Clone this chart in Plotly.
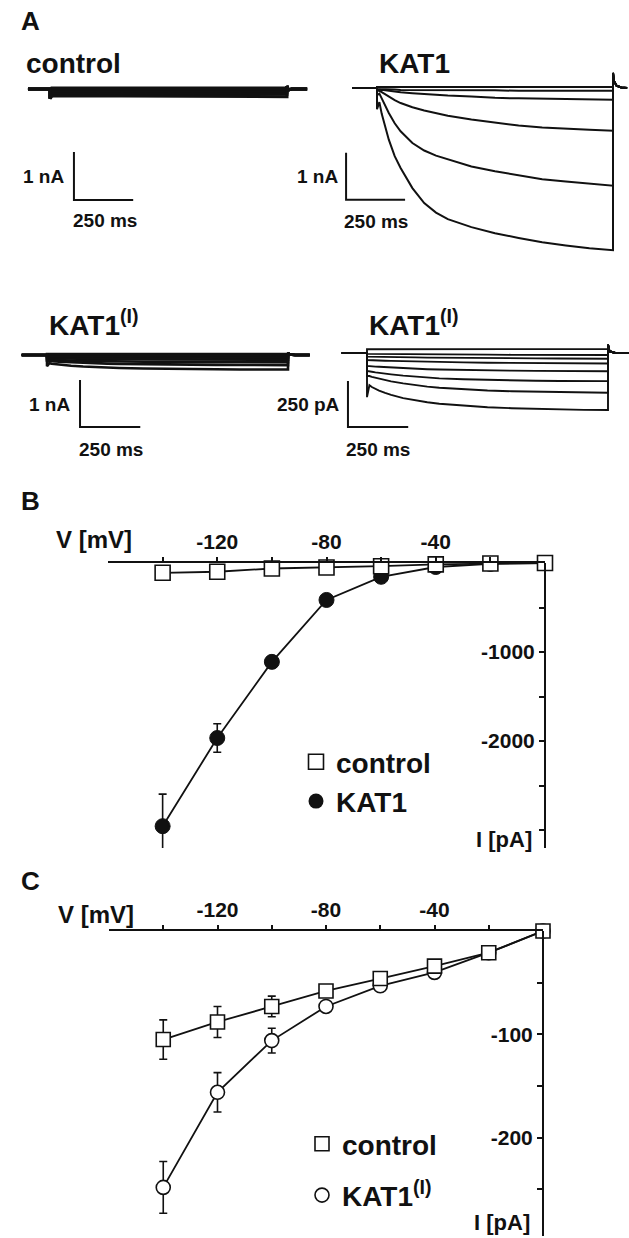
import plotly.graph_objects as go

W, H = 629, 1238
FONT = "Liberation Sans, Arial, sans-serif"
INK = "#111111"

# ---------------- Panel A : current traces ----------------
# time (ms) relative to pulse onset
T_PRE = [-105, 0]
T_PULSE = [0, 10, 20, 35, 50, 75, 100, 150, 200, 250, 300, 400, 500, 600, 700, 800, 900, 1000]

# control oocyte (nA)
T_CTRL_PULSE = [0, 8, 20, 500, 1000]
CTRL_1 = [-0.20, 0.02, 0.02, 0.02, 0.02]
CTRL_2 = [-0.20, -0.03, -0.03, -0.03, -0.03]
CTRL_3 = [-0.20, -0.07, -0.07, -0.07, -0.07]
CTRL_4 = [-0.20, -0.11, -0.10, -0.11, -0.11]
CTRL_5 = [-0.20, -0.15, -0.14, -0.15, -0.16]
T_CTRL_TAIL = [1000, 1006, 1020, 1085]
CTRL_TAIL = [0.06, -0.02, 0.0, 0.0]

# KAT1 (nA)
KAT1_0 = [0.02, 0.02, 0.02, 0.02, 0.02, 0.02, 0.02, 0.02, 0.02, 0.02, 0.02, 0.02, 0.02, 0.02, 0.02, 0.02, 0.02, 0.02]
KAT1_1 = [-0.02, -0.02, -0.02, -0.03, -0.03, -0.03, -0.04, -0.04, -0.04, -0.05, -0.05, -0.05, -0.05, -0.06, -0.06, -0.06, -0.06, -0.06]
KAT1_2 = [-0.03, -0.03, -0.04, -0.05, -0.06, -0.08, -0.09, -0.11, -0.13, -0.145, -0.16, -0.18, -0.21, -0.22, -0.23, -0.24, -0.24, -0.25]
KAT1_3 = [-0.06, -0.06, -0.09, -0.14, -0.19, -0.26, -0.32, -0.41, -0.48, -0.54, -0.59, -0.67, -0.74, -0.80, -0.84, -0.87, -0.89, -0.91]
KAT1_4 = [-0.15, -0.12, -0.22, -0.38, -0.53, -0.75, -0.92, -1.17, -1.33, -1.44, -1.52, -1.67, -1.77, -1.86, -1.94, -1.99, -2.04, -2.08]
KAT1_5 = [-0.45, -0.30, -0.55, -0.85, -1.10, -1.45, -1.70, -2.13, -2.45, -2.65, -2.79, -2.96, -3.09, -3.19, -3.28, -3.35, -3.41, -3.45]
T_KAT1_TAIL = [1000, 1004, 1015, 1035, 1060]
KAT1_TAIL = [0.32, 0.15, 0.05, 0.01, 0.0]

# KAT1(I) (pA)
KI_1 = [20, 20, 20, 20, 21, 21, 21, 21, 21, 22, 22, 22, 22, 22, 22, 22, 22, 22]
KI_2 = [-5, -5, -5, -6, -6, -6, -7, -7, -8, -8, -8, -9, -9, -10, -10, -10, -11, -11]
KI_3 = [-20, -20, -21, -22, -22, -23, -23, -24, -24, -25, -25, -26, -27, -28, -29, -30, -30, -31]
KI_4 = [-38, -38, -39, -40, -41, -42, -43, -45, -47, -48, -49, -51, -53, -54, -55, -56, -57, -57]
KI_5 = [-70, -70, -72, -74, -75, -77, -79, -83, -86, -88, -90, -93, -95, -96, -97, -98, -99, -99]
KI_6 = [-98, -98, -102, -105, -108, -112, -116, -123, -129, -134, -138, -143, -147, -149, -151, -152, -153, -153]
KI_7 = [-125, -125, -130, -135, -140, -147, -154, -165, -175, -183, -189, -198, -204, -208, -211, -213, -215, -216]
KI_8 = [-240, -175, -185, -195, -204, -217, -228, -245, -258, -268, -276, -287, -295, -300, -304, -307, -309, -310]
T_KI_TAIL = [1000, 1006, 1030, 1090]
KI_TAIL = [45, 10, 0, 0]

# ---------------- Panels B and C : I/V curves ----------------
V_STEPS = [-140, -120, -100, -80, -60, -40, -20, 0]
V_LABELED = [-120, -80, -40]
V_TICKTEXT = ["-120", "-80", "-40"]
V_MINOR = [-140, -100, -60, -20]

B_CONTROL = [-110, -98, -62, -50, -36, -15, -6, 0]
B_KAT1 = [-2955, -1965, -1110, -415, -155, -45, -10, 0]
B_KAT1_ERR = [360, 160, 50, 30, 20, 10, 5, 0]
B_ILABELED = [-1000, -2000]
B_ITEXT = ["-1000", "-2000"]
B_IMINOR = [-500, -1500, -2500, -3000]

C_CONTROL = [-105, -88, -73, -58, -46, -34, -21, 0]
C_CONTROL_ERR = [19, 15, 10, 3, 2, 2, 2, 0]
C_KAT1I = [-248, -156, -106, -73, -53, -40, -21, 0]
C_KAT1I_ERR = [25, 19, 12, 4, 3, 3, 2, 0]
C_ILABELED = [-100, -200]
C_ITEXT = ["-100", "-200"]
C_IMINOR = [-50, -150, -250]

fig = go.Figure()


def xdom(a, b):
    return [a / W, b / W]


def ydom(top, bot):
    return [1 - bot / H, 1 - top / H]


def trace_axis_x(px0, px1, p_t0, px_per_ms):
    return dict(domain=xdom(px0, px1), range=[(px0 - p_t0) / px_per_ms, (px1 - p_t0) / px_per_ms],
                visible=False, fixedrange=True)


def trace_axis_y(ptop, pbot, p_base, px_per_unit):
    return dict(domain=ydom(ptop, pbot), range=[-(pbot - p_base) / px_per_unit, -(ptop - p_base) / px_per_unit],
                visible=False, fixedrange=True)


def add_sweep(xa, ya, pre, t_pulse, vals, t_tail, tail, width=1.8):
    x = [pre, T_PRE[1]] + list(t_pulse) + list(t_tail)
    y = [0, 0] + list(vals) + list(tail)
    fig.add_trace(go.Scatter(x=x, y=y, mode="lines", line=dict(color=INK, width=width),
                             xaxis=xa, yaxis=ya, showlegend=False, hoverinfo="skip"))


# A1 control
for tr in [CTRL_1, CTRL_2, CTRL_3, CTRL_4, CTRL_5]:
    add_sweep("x3", "y3", -93, T_CTRL_PULSE, tr, T_CTRL_TAIL, CTRL_TAIL, width=3.0)
# A2 KAT1
for tr in [KAT1_0, KAT1_1, KAT1_2, KAT1_3, KAT1_4, KAT1_5]:
    add_sweep("x4", "y4", -105, T_PULSE, tr, T_KAT1_TAIL, KAT1_TAIL, width=2.0)
# A3 KAT1(I), nA scale / A4 KAT1(I), pA scale
for tr in [KI_1, KI_2, KI_3, KI_4, KI_5, KI_6, KI_7, KI_8]:
    add_sweep("x5", "y5", -105, T_PULSE, [v / 1000 for v in tr], T_KI_TAIL, [v / 1000 for v in KI_TAIL], width=2.6)
    add_sweep("x6", "y6", -105, T_PULSE, tr, T_KI_TAIL, KI_TAIL, width=1.9)

# scale bars: (xaxis, yaxis, corner time, corner current, bar height)
SCALE_BARS = [("x3", "y3", 101, -2.31, 1.0), ("x4", "y4", -131, -2.38, 1.0),
              ("x5", "y5", 137, -1.53, 1.0), ("x6", "y6", -79, -402, 250)]
for xa, ya, tc, ic, hgt in SCALE_BARS:
    fig.add_trace(go.Scatter(x=[tc, tc, tc + 250], y=[ic + hgt, ic, ic], mode="lines",
                             line=dict(color=INK, width=2), xaxis=xa, yaxis=ya,
                             showlegend=False, hoverinfo="skip"))

# ---------------- Panel B ----------------
fig.add_trace(go.Scatter(x=V_STEPS, y=B_KAT1, mode="lines+markers", xaxis="x", yaxis="y",
                         line=dict(color=INK, width=1.8),
                         marker=dict(symbol="circle", size=15, color=INK, line=dict(color=INK, width=1)),
                         error_y=dict(type="data", array=B_KAT1_ERR, color=INK, thickness=1.6, width=4),
                         cliponaxis=False, showlegend=False, hoverinfo="skip"))
fig.add_trace(go.Scatter(x=V_STEPS, y=B_CONTROL, mode="lines+markers", xaxis="x", yaxis="y",
                         line=dict(color=INK, width=1.8),
                         marker=dict(symbol="square", size=15, color="white", line=dict(color=INK, width=1.6)),
                         cliponaxis=False, showlegend=False, hoverinfo="skip"))
fig.add_trace(go.Scatter(x=[None], y=[None], mode="markers", name="control", legend="legend",
                         legendgroup="bc", xaxis="x", yaxis="y",
                         marker=dict(symbol="square", size=15, color="white", line=dict(color=INK, width=1.6))))
fig.add_trace(go.Scatter(x=[None], y=[None], mode="markers", name="KAT1", legend="legend",
                         legendgroup="bk", xaxis="x", yaxis="y",
                         marker=dict(symbol="circle", size=15, color=INK)))

# ---------------- Panel C ----------------
fig.add_trace(go.Scatter(x=V_STEPS, y=C_KAT1I, mode="lines+markers", xaxis="x2", yaxis="y2",
                         line=dict(color=INK, width=1.8),
                         marker=dict(symbol="circle", size=14, color="white", line=dict(color=INK, width=1.6)),
                         error_y=dict(type="data", array=C_KAT1I_ERR, color=INK, thickness=1.6, width=4),
                         cliponaxis=False, showlegend=False, hoverinfo="skip"))
fig.add_trace(go.Scatter(x=V_STEPS, y=C_CONTROL, mode="lines+markers", xaxis="x2", yaxis="y2",
                         line=dict(color=INK, width=1.8),
                         marker=dict(symbol="square", size=14, color="white", line=dict(color=INK, width=1.6)),
                         error_y=dict(type="data", array=C_CONTROL_ERR, color=INK, thickness=1.6, width=4),
                         cliponaxis=False, showlegend=False, hoverinfo="skip"))
fig.add_trace(go.Scatter(x=[None], y=[None], mode="markers", name="control", legend="legend2",
                         legendgroup="cc", xaxis="x2", yaxis="y2",
                         marker=dict(symbol="square", size=14, color="white", line=dict(color=INK, width=1.6))))
fig.add_trace(go.Scatter(x=[None], y=[None], mode="markers", name="KAT1<sup>(I)</sup>", legend="legend2",
                         legendgroup="ck", xaxis="x2", yaxis="y2",
                         marker=dict(symbol="circle", size=14, color="white", line=dict(color=INK, width=1.6))))

tickfont = dict(family=FONT, size=21, color=INK, weight="bold")


def v_axis(x0, x1, yname):
    return dict(domain=xdom(x0, x1), range=[-160, 0], anchor=yname, side="top",
                showline=True, linecolor=INK, linewidth=2, ticks="outside", ticklen=4, tickwidth=1.6,
                tickcolor=INK, tickmode="array", tickvals=V_LABELED, ticktext=V_TICKTEXT, tickfont=tickfont,
                minor=dict(tickmode="array", tickvals=V_MINOR, ticks="outside", ticklen=4, tickwidth=1.6,
                           tickcolor=INK, showgrid=False),
                showgrid=False, zeroline=False, fixedrange=True)


def i_axis(top, bot, rng, xpos, tv, tt, tminor):
    return dict(domain=ydom(top, bot), range=rng, anchor="free", position=xpos / W, side="left",
                showline=True, linecolor=INK, linewidth=2, ticks="outside", ticklen=5, tickwidth=1.6,
                tickcolor=INK, tickmode="array", tickvals=tv, ticktext=tt, tickfont=tickfont,
                minor=dict(tickmode="array", tickvals=tminor, ticks="outside", ticklen=5, tickwidth=1.6,
                           tickcolor=INK, showgrid=False),
                showgrid=False, zeroline=False, fixedrange=True)


layout = dict(
    width=W, height=H, margin=dict(l=0, r=0, t=0, b=0),
    paper_bgcolor="white", plot_bgcolor="white",
    font=dict(family=FONT, color=INK),
    xaxis=v_axis(108, 545, "y"),
    yaxis=i_axis(563, 848, [-3200, 0], 545, B_ILABELED, B_ITEXT, B_IMINOR),
    xaxis2=v_axis(109, 543, "y2"),
    yaxis2=i_axis(931, 1236, [-295, 0], 543, C_ILABELED, C_ITEXT, C_IMINOR),
    xaxis3=trace_axis_x(0, 318, 50, 0.237), yaxis3=trace_axis_y(30, 250, 89, 48),
    xaxis4=trace_axis_x(322, 629, 377, 0.236), yaxis4=trace_axis_y(30, 280, 88, 47),
    xaxis5=trace_axis_x(0, 318, 47, 0.241), yaxis5=trace_axis_y(290, 470, 355, 47),
    xaxis6=trace_axis_x(322, 629, 367, 0.241), yaxis6=trace_axis_y(290, 470, 353, 0.184),
    legend=dict(x=(316 - 20) / W, y=1 - 737 / H, xanchor="left", yanchor="top",
                font=dict(family=FONT, size=28, color=INK, weight="bold"),
                bgcolor="rgba(0,0,0,0)", tracegroupgap=0, itemclick=False),
    legend2=dict(x=(322 - 20) / W, y=1 - 1119 / H, xanchor="left", yanchor="top",
                 font=dict(family=FONT, size=28, color=INK, weight="bold"),
                 bgcolor="rgba(0,0,0,0)", tracegroupgap=12, itemclick=False),
    showlegend=True,
)
fig.update_layout(**layout)


def label(text, xp, yp, size, xanchor="left", yanchor="middle"):
    fig.add_annotation(text=text, x=xp / W, y=1 - yp / H, xref="paper", yref="paper",
                       xanchor=xanchor, yanchor=yanchor, showarrow=False,
                       font=dict(family=FONT, size=size, color=INK, weight="bold"))


label("A", 19, 21, 26)
label("B", 19, 501, 26)
label("C", 19, 881, 26)
label("control", 24, 63, 28)
label("KAT1", 377, 63, 28)
label("KAT1<sup>(I)</sup>", 47, 323, 28)
label("KAT1<sup>(I)</sup>", 367, 323, 28)
label("1 nA", 66, 176, 19, "right")
label("250 ms", 71, 221, 19)
label("1 nA", 340, 176, 19, "right")
label("250 ms", 342, 222, 19)
label("1 nA", 72, 404, 19, "right")
label("250 ms", 77, 449, 19)
label("250 pA", 342, 404, 19, "right")
label("250 ms", 344, 449, 19)
label("V [mV]", 54, 539, 24)
label("I [pA]", 534, 840, 22, "right")
label("V [mV]", 56, 914, 24)
label("I [pA]", 532, 1237, 22, "right", "bottom")

# the page body keeps its default 8px margin otherwise; remove it so the figure fills the window
fig.write_html("out.html", config={"displayModeBar": False},
               post_script="document.body.style.margin='0';document.body.style.overflow='hidden';")
